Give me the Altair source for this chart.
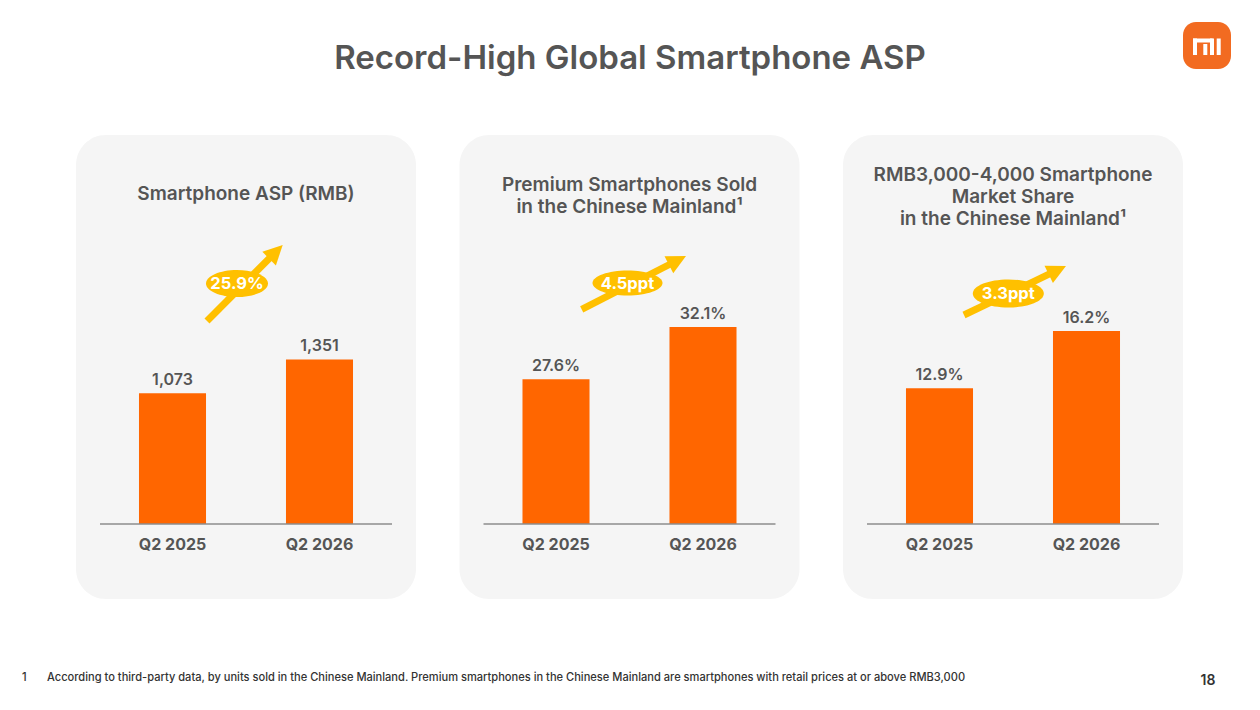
import altair as alt
import pandas as pd

# ---------------- data ----------------
categories = ["Q2 2025", "Q2 2026"]
asp_values = [1073, 1351]
asp_labels = ["1,073", "1,351"]
premium_values = [27.6, 32.1]
premium_labels = ["27.6%", "32.1%"]
mid_values = [12.9, 16.2]
mid_labels = ["12.9%", "16.2%"]
growth_labels = ["25.9%", "4.5ppt", "3.3ppt"]
panel_titles = [
    ["Smartphone ASP (RMB)"],
    ["Premium Smartphones Sold", "in the Chinese Mainland\u00b9"],
    ["RMB3,000-4,000 Smartphone", "Market Share", "in the Chinese Mainland\u00b9"],
]
page_title = "Record-High Global Smartphone ASP"
footnote_number = "1"
footnote_text = ("According to third-party data, by units sold in the Chinese Mainland. "
                 "Premium smartphones in the Chinese Mainland are smartphones with retail "
                 "prices at or above RMB3,000")
page_number = "18"

# ---------------- style ----------------
FONT = "Inter"
GREY = "#555555"
ORANGE = "#FF6600"
YELLOW = "#FFC000"
LOGO = "#F26B21"
PANEL_W, PANEL_H = 340, 464
SPACING = 43.5
ORIGINS = [(76 + i * (PANEL_W + SPACING), 134) for i in range(3)]
BASE_PAGE_Y = 523

one = pd.DataFrame({"k": [0]})


def deco():
    return alt.Chart(one)


def ellipse_path(w, h):
    r = h / w
    k = 0.5523
    return (f"M -1 0 C -1 {-k*r:.4f} {-k:.4f} {-r:.4f} 0 {-r:.4f} "
            f"C {k:.4f} {-r:.4f} 1 {-k*r:.4f} 1 0 "
            f"C 1 {k*r:.4f} {k:.4f} {r:.4f} 0 {r:.4f} "
            f"C {-k:.4f} {r:.4f} -1 {k*r:.4f} -1 0 Z")


ARROW_HEAD = "M 0 -1 L 0.8 0.6 L -0.8 0.6 Z"


def txt(text, x, y, size, weight=600, color=GREY, align="center", baseline="middle"):
    return deco().mark_text(text=text, font=FONT, fontSize=size, fontWeight=weight,
                            color=color, align=align, baseline=baseline).encode(
        x=alt.value(x), y=alt.value(y))


def panel(i, values, labels, base_val, px_per_unit, title_ys, badge, arrow, extra=None):
    ox, oy = ORIGINS[i]
    base_local = BASE_PAGE_Y - oy
    lo = base_val - (PANEL_H - base_local) / px_per_unit
    hi = base_val + base_local / px_per_unit
    df = pd.DataFrame({"cat": categories, "val": values, "label": labels})
    x = alt.X("cat:N", sort=categories,
              scale=alt.Scale(domain=categories, paddingInner=0.544, paddingOuter=0.4285),
              axis=None)
    yscale = alt.Scale(domain=[lo, hi], zero=False, nice=False)
    y = alt.Y("val:Q", scale=yscale, axis=None)
    yb = alt.Y("base:Q", scale=yscale, axis=None)
    b = alt.Chart(df).transform_calculate(base=str(base_val))
    layers = []
    if extra is not None:
        layers.extend(extra)
    layers.append(b.mark_bar(color=ORANGE).encode(x=x, y=y, y2="base:Q"))
    layers.append(b.transform_filter(alt.datum.cat == categories[0]).mark_rule(
        color="#8C8C8C", strokeWidth=1.5).encode(
        x=alt.value(24), x2=alt.value(316), y=yb))
    layers.append(b.mark_text(font=FONT, fontSize=16, fontWeight=600, color=GREY,
                              baseline="alphabetic", dy=-8).encode(x=x, y=y, text="label:N"))
    layers.append(b.mark_text(font=FONT, fontSize=16, fontWeight=700, color=GREY,
                              baseline="middle", dy=21).encode(x=x, y=yb, text="cat:N"))
    for line, ty in zip(panel_titles[i], title_ys):
        layers.append(txt(line, PANEL_W / 2, ty - oy, 19, 600))
    # arrow
    (tx, ty_), (hx, hy), ang = arrow
    layers.append(deco().mark_rule(color=YELLOW, strokeWidth=7).encode(
        x=alt.value(tx - ox), y=alt.value(ty_ - oy),
        x2=alt.value(hx - ox), y2=alt.value(hy - oy)))
    layers.append(deco().mark_point(shape=ARROW_HEAD, filled=True, color=YELLOW, opacity=1,
                                    size=576, angle=ang, strokeWidth=0).encode(
        x=alt.value(hx - ox), y=alt.value(hy - oy)))
    # badge
    (bx, by), (bw, bh) = badge
    layers.append(deco().mark_point(shape=ellipse_path(bw, bh), filled=True, color=YELLOW,
                                    opacity=1, size=bw * bw, strokeWidth=0).encode(
        x=alt.value(bx - ox), y=alt.value(by - oy)))
    layers.append(txt(growth_labels[i], bx - ox, by - oy + 0.5, 16.5, 700, "white"))
    return alt.layer(*layers).properties(width=PANEL_W, height=PANEL_H)


# page level decorations (drawn in the first panel's coordinate frame)
ox1, oy1 = ORIGINS[0]


def L(px, py):
    return px - ox1, py - oy1


page_layers = []
page_layers.append(deco().mark_rect(opacity=0).encode(
    x=alt.value(8 - ox1), x2=alt.value(1250 - ox1),
    y=alt.value(7 - oy1), y2=alt.value(700 - oy1)))
page_layers.append(txt(page_title, *L(630, 58), 33, 600))
page_layers.append(txt(footnote_number, *L(22, 677), 11.1, 500, "#333333", align="left"))
page_layers.append(txt(footnote_text, *L(47, 677), 11.1, 500, "#333333", align="left"))
page_layers.append(txt(page_number, *L(1208, 680), 14, 600, "#333333"))
page_layers.append(deco().mark_rect(color=LOGO, cornerRadius=13).encode(
    x=alt.value(1183 - ox1), x2=alt.value(1231 - ox1),
    y=alt.value(21 - oy1), y2=alt.value(68 - oy1)))
glyph = [
    (1193, 1197, 37.5, 54, 0),
    (1193, 1214, 37.5, 41.5, 5),
    (1210, 1214, 37.5, 54, 0),
    (1203.3, 1207.3, 43, 54, 0),
    (1216.7, 1220.7, 37.5, 54, 0),
]
for gx1, gx2, gy1, gy2, cr in glyph:
    page_layers.append(deco().mark_rect(color="white", cornerRadiusTopRight=cr).encode(
        x=alt.value(gx1 - ox1), x2=alt.value(gx2 - ox1),
        y=alt.value(gy1 - oy1), y2=alt.value(gy2 - oy1)))

p1 = panel(0, asp_values, asp_labels, 0, 0.1218, [193],
           badge=((237, 282.5), (62, 27)),
           arrow=((207, 320), (274.2, 252.5), 45), extra=page_layers)
p2 = panel(1, premium_values, premium_labels, 15.15, 11.62, [184, 206],
           badge=((627.5, 282), (70, 25)),
           arrow=((581.7, 308.3), (675.3, 260.5), 63))
p3 = panel(2, mid_values, mid_labels, 5.08, 17.36, [174, 196, 218],
           badge=((1008.3, 292.5), (71, 28)),
           arrow=((964, 314), (1055.2, 270.2), 64))

chart = alt.hconcat(p1, p2, p3, spacing=SPACING, bounds="flush").resolve_scale(
    x="independent", y="independent"
).properties(padding=0, background="white").configure(
    font=FONT
).configure_view(
    fill="#F5F5F5", cornerRadius=30, strokeWidth=0, stroke="transparent"
)

chart.save("out.html", embed_options={"renderer": "svg", "actions": False})
